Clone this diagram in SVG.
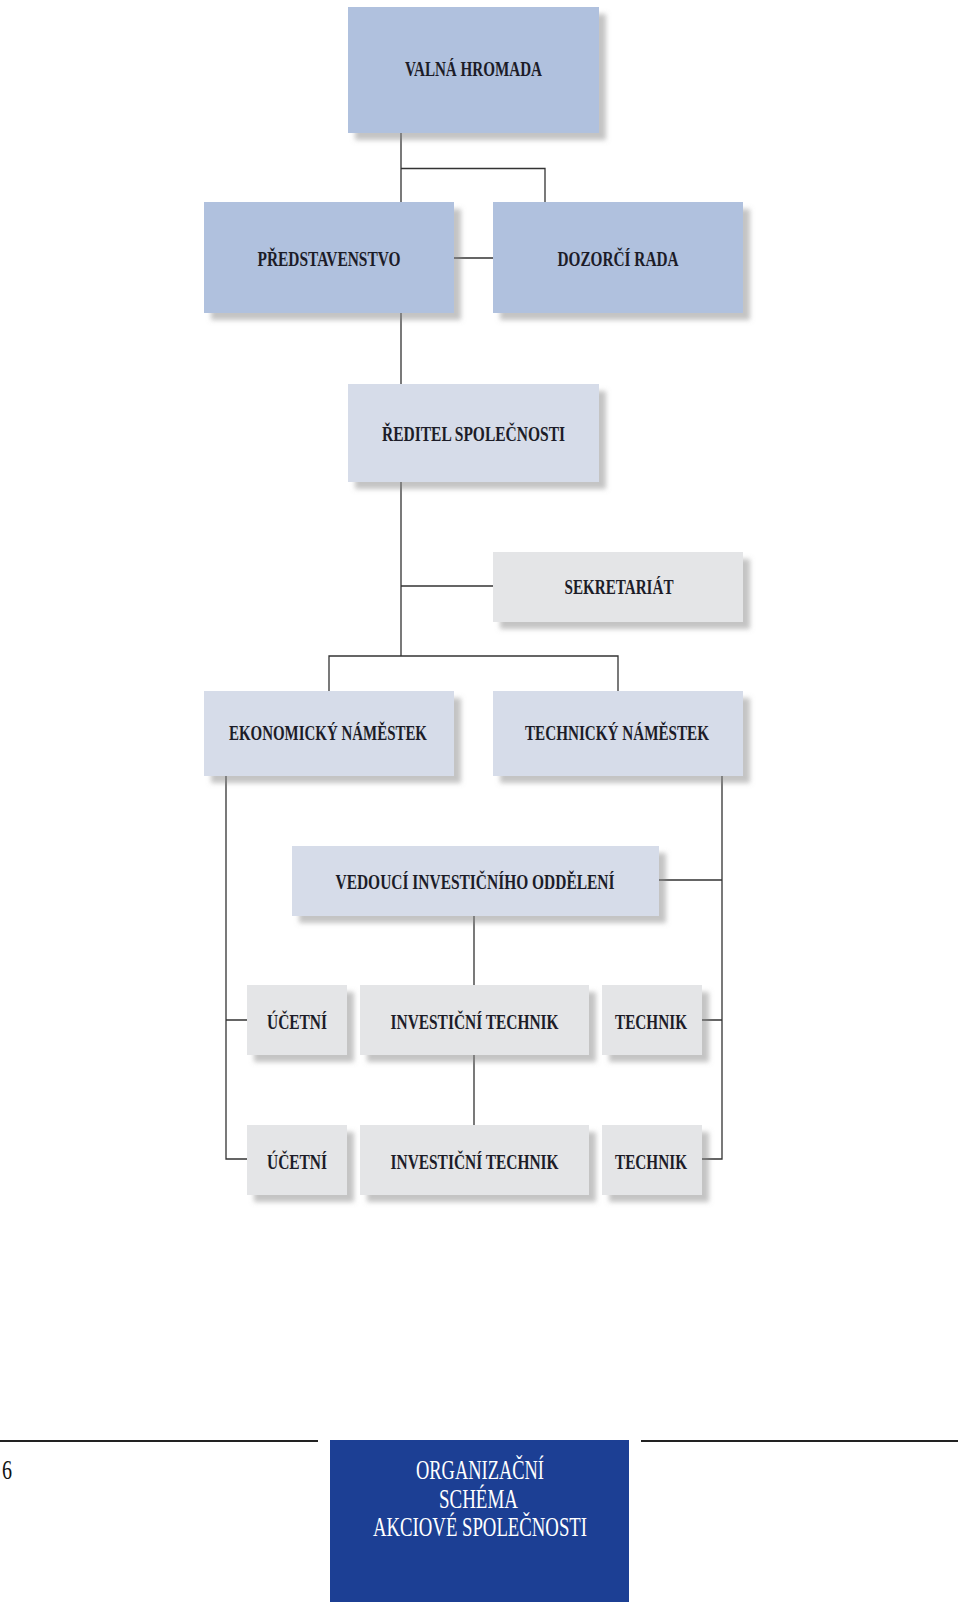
<svg xmlns="http://www.w3.org/2000/svg" width="960" height="1602" viewBox="0 0 960 1602">
<style>
.box{filter:url(#sh)}
.b1{fill:#b0c1de}
.b2{fill:#d6dce9}
.b3{fill:#e4e5e7}
.t{font-family:"Liberation Serif","DejaVu Serif",serif;font-weight:bold;font-size:20px;fill:#1c1c28;text-anchor:middle}
.f{font-family:"Liberation Serif","DejaVu Serif",serif;font-size:27px;fill:#ffffff;text-anchor:middle}
.c{fill:none;stroke:#333;stroke-width:1.3}
</style>
<defs>
<filter id="sh" x="-10%" y="-10%" width="130%" height="140%">
<feDropShadow dx="7" dy="7" stdDeviation="2.5" flood-color="#888" flood-opacity="0.5"/>
</filter>
</defs>
<rect width="960" height="1602" fill="#ffffff"/>
<g id="connectors">
<path class="c" d="M401 133V202M401 168.5H545V202M454 258H493M401 313V384M401 482V656M401 586H493M329 691V656H618V691"/>
<path class="c" d="M226 776V1159H247M226 1020H247M722 776V1159H702M659 880H722M702 1020H722M474 916V985M474 1055V1125"/>
</g>
<g id="valna"><rect class="box b1" x="348" y="7" width="251" height="126"/><text class="t" x="473.5" y="76" textLength="137" lengthAdjust="spacingAndGlyphs">VALNÁ HROMADA</text></g>
<g id="predstavenstvo"><rect class="box b1" x="204" y="202" width="250" height="111"/><text class="t" x="329" y="265.5" textLength="143" lengthAdjust="spacingAndGlyphs">PŘEDSTAVENSTVO</text></g>
<g id="dozorci"><rect class="box b1" x="493" y="202" width="250" height="111"/><text class="t" x="618" y="265.5" textLength="121" lengthAdjust="spacingAndGlyphs">DOZORČÍ RADA</text></g>
<g id="reditel"><rect class="box b2" x="348" y="384" width="251" height="98"/><text class="t" x="473.5" y="440.5" textLength="183" lengthAdjust="spacingAndGlyphs">ŘEDITEL SPOLEČNOSTI</text></g>
<g id="sekretariat"><rect class="box b3" x="493" y="552" width="250" height="70"/><text class="t" x="619" y="593.5" textLength="109" lengthAdjust="spacingAndGlyphs">SEKRETARIÁT</text></g>
<g id="ekonomicky"><rect class="box b2" x="204" y="691" width="250" height="85"/><text class="t" x="328" y="740" textLength="198" lengthAdjust="spacingAndGlyphs">EKONOMICKÝ NÁMĚSTEK</text></g>
<g id="technicky"><rect class="box b2" x="493" y="691" width="250" height="85"/><text class="t" x="617" y="740" textLength="184" lengthAdjust="spacingAndGlyphs">TECHNICKÝ NÁMĚSTEK</text></g>
<g id="vedouci"><rect class="box b2" x="292" y="846" width="367" height="70"/><text class="t" x="475" y="889" textLength="279" lengthAdjust="spacingAndGlyphs">VEDOUCÍ INVESTIČNÍHO ODDĚLENÍ</text></g>
<g id="ucetni1"><rect class="box b3" x="247" y="985" width="100" height="70"/><text class="t" x="297" y="1029" textLength="60" lengthAdjust="spacingAndGlyphs">ÚČETNÍ</text></g>
<g id="invtech1"><rect class="box b3" x="360" y="985" width="229" height="70"/><text class="t" x="474.5" y="1029" textLength="168" lengthAdjust="spacingAndGlyphs">INVESTIČNÍ TECHNIK</text></g>
<g id="technik1"><rect class="box b3" x="602" y="985" width="100" height="70"/><text class="t" x="651" y="1029" textLength="72" lengthAdjust="spacingAndGlyphs">TECHNIK</text></g>
<g id="ucetni2"><rect class="box b3" x="247" y="1125" width="100" height="70"/><text class="t" x="297" y="1168.5" textLength="60" lengthAdjust="spacingAndGlyphs">ÚČETNÍ</text></g>
<g id="invtech2"><rect class="box b3" x="360" y="1125" width="229" height="70"/><text class="t" x="474.5" y="1168.5" textLength="168" lengthAdjust="spacingAndGlyphs">INVESTIČNÍ TECHNIK</text></g>
<g id="technik2"><rect class="box b3" x="602" y="1125" width="100" height="70"/><text class="t" x="651" y="1168.5" textLength="72" lengthAdjust="spacingAndGlyphs">TECHNIK</text></g>
<g id="footer">
<path d="M0 1441H318M641 1441H958" stroke="#222" stroke-width="2" fill="none"/>
<text x="2" y="1479" font-family="Liberation Serif, serif" font-size="27" fill="#111" textLength="10" lengthAdjust="spacingAndGlyphs">6</text>
<rect x="330" y="1440" width="299" height="162" fill="#1c3f94"/>
<text class="f" x="480" y="1479" textLength="128" lengthAdjust="spacingAndGlyphs">ORGANIZAČNÍ</text>
<text class="f" x="478.5" y="1507.5" textLength="79" lengthAdjust="spacingAndGlyphs">SCHÉMA</text>
<text class="f" x="480" y="1536" textLength="214" lengthAdjust="spacingAndGlyphs">AKCIOVÉ SPOLEČNOSTI</text>
</g>
</svg>
